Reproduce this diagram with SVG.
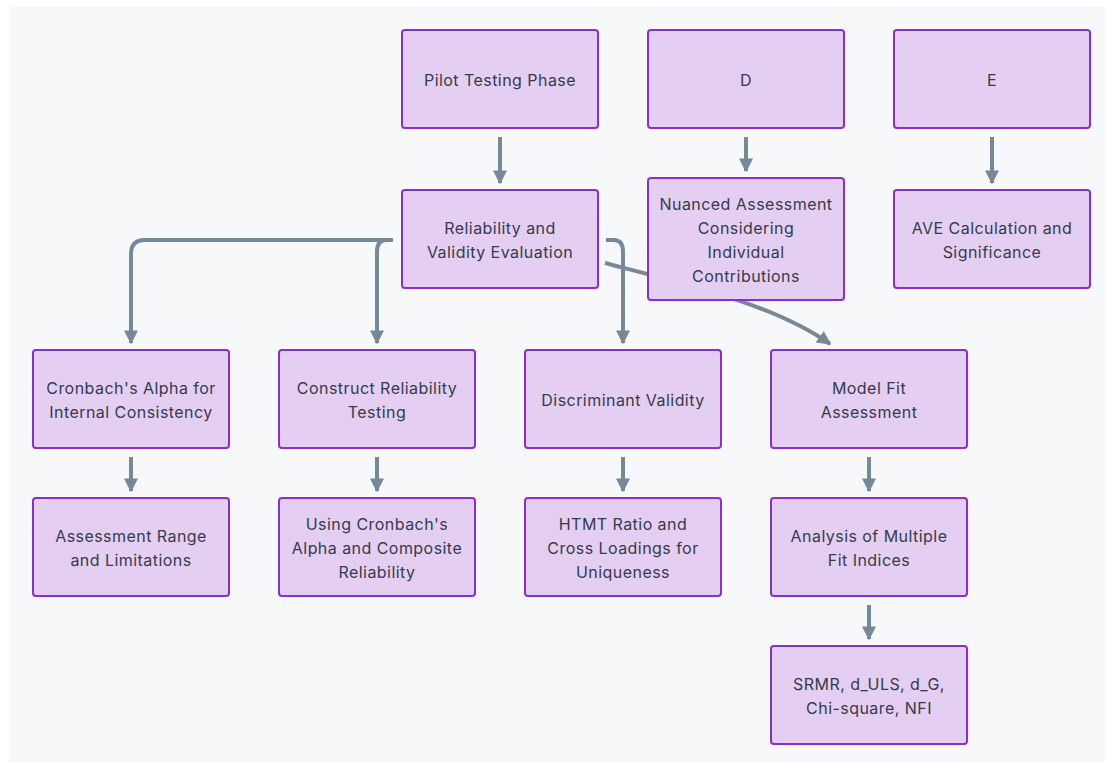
<svg xmlns="http://www.w3.org/2000/svg" width="1105" height="763" viewBox="0 0 1105 763">
<defs>
<style>
.bg{fill:#f7f8fa}
.node rect{fill:#e4cff3;stroke:#8a2ed0;stroke-width:2}
.node text{font-family:Inter,"Liberation Sans",sans-serif;font-size:16px;letter-spacing:0.45px;fill:#343b4a;text-anchor:middle}
.edge{fill:none;stroke:#778899;stroke-width:4}
</style>
<marker id="ah" viewBox="0 0 10 10" refX="9" refY="5" markerWidth="3.5" markerHeight="3.5" orient="auto" markerUnits="strokeWidth">
<path d="M0,0 L10,5 L0,10 z" fill="#778899"/>
</marker>
</defs>
<rect class="bg" x="9" y="7" width="1096" height="756"/>
<g id="connectors">
<path class="edge" marker-end="url(#ah)" d="M500,137 V183"/>
<path class="edge" marker-end="url(#ah)" d="M746,137 V171"/>
<path class="edge" marker-end="url(#ah)" d="M992,137 V183"/>
<path class="edge" marker-end="url(#ah)" d="M393,240 H145 Q131,240 131,254 V343"/>
<path class="edge" marker-end="url(#ah)" d="M393,240 H386 Q377,240 377,252 V343"/>
<path class="edge" marker-end="url(#ah)" d="M606,240 H614 Q623,240 623,252 V343"/>
<path class="edge" marker-end="url(#ah)" d="M605,263 C690,285 775,305 830,344"/>
<path class="edge" marker-end="url(#ah)" d="M131,457 V491"/>
<path class="edge" marker-end="url(#ah)" d="M377,457 V491"/>
<path class="edge" marker-end="url(#ah)" d="M623,457 V491"/>
<path class="edge" marker-end="url(#ah)" d="M869,457 V491"/>
<path class="edge" marker-end="url(#ah)" d="M869,605 V639"/>
</g>
<g id="pilot" class="node"><rect x="402" y="30" width="196" height="98" rx="3"/><text x="500" y="86">Pilot Testing Phase</text></g>
<g id="d" class="node"><rect x="648" y="30" width="196" height="98" rx="3"/><text x="746" y="86">D</text></g>
<g id="e" class="node"><rect x="894" y="30" width="196" height="98" rx="3"/><text x="992" y="86">E</text></g>
<g id="reliability" class="node"><rect x="402" y="190" width="196" height="98" rx="3"/><text x="500" y="234">Reliability and</text><text x="500" y="258">Validity Evaluation</text></g>
<g id="nuanced" class="node"><rect x="648" y="178" width="196" height="122" rx="3"/><text x="746" y="210">Nuanced Assessment</text><text x="746" y="234">Considering</text><text x="746" y="258">Individual</text><text x="746" y="282">Contributions</text></g>
<g id="ave" class="node"><rect x="894" y="190" width="196" height="98" rx="3"/><text x="992" y="234">AVE Calculation and</text><text x="992" y="258">Significance</text></g>
<g id="cronbach" class="node"><rect x="33" y="350" width="196" height="98" rx="3"/><text x="131" y="394">Cronbach's Alpha for</text><text x="131" y="418">Internal Consistency</text></g>
<g id="construct" class="node"><rect x="279" y="350" width="196" height="98" rx="3"/><text x="377" y="394">Construct Reliability</text><text x="377" y="418">Testing</text></g>
<g id="discriminant" class="node"><rect x="525" y="350" width="196" height="98" rx="3"/><text x="623" y="406">Discriminant Validity</text></g>
<g id="modelfit" class="node"><rect x="771" y="350" width="196" height="98" rx="3"/><text x="869" y="394">Model Fit</text><text x="869" y="418">Assessment</text></g>
<g id="range" class="node"><rect x="33" y="498" width="196" height="98" rx="3"/><text x="131" y="542">Assessment Range</text><text x="131" y="566">and Limitations</text></g>
<g id="using" class="node"><rect x="279" y="498" width="196" height="98" rx="3"/><text x="377" y="530">Using Cronbach's</text><text x="377" y="554">Alpha and Composite</text><text x="377" y="578">Reliability</text></g>
<g id="htmt" class="node"><rect x="525" y="498" width="196" height="98" rx="3"/><text x="623" y="530">HTMT Ratio and</text><text x="623" y="554">Cross Loadings for</text><text x="623" y="578">Uniqueness</text></g>
<g id="indices" class="node"><rect x="771" y="498" width="196" height="98" rx="3"/><text x="869" y="542">Analysis of Multiple</text><text x="869" y="566">Fit Indices</text></g>
<g id="srmr" class="node"><rect x="771" y="646" width="196" height="98" rx="3"/><text x="869" y="690">SRMR, d_ULS, d_G,</text><text x="869" y="714">Chi-square, NFI</text></g>
</svg>
